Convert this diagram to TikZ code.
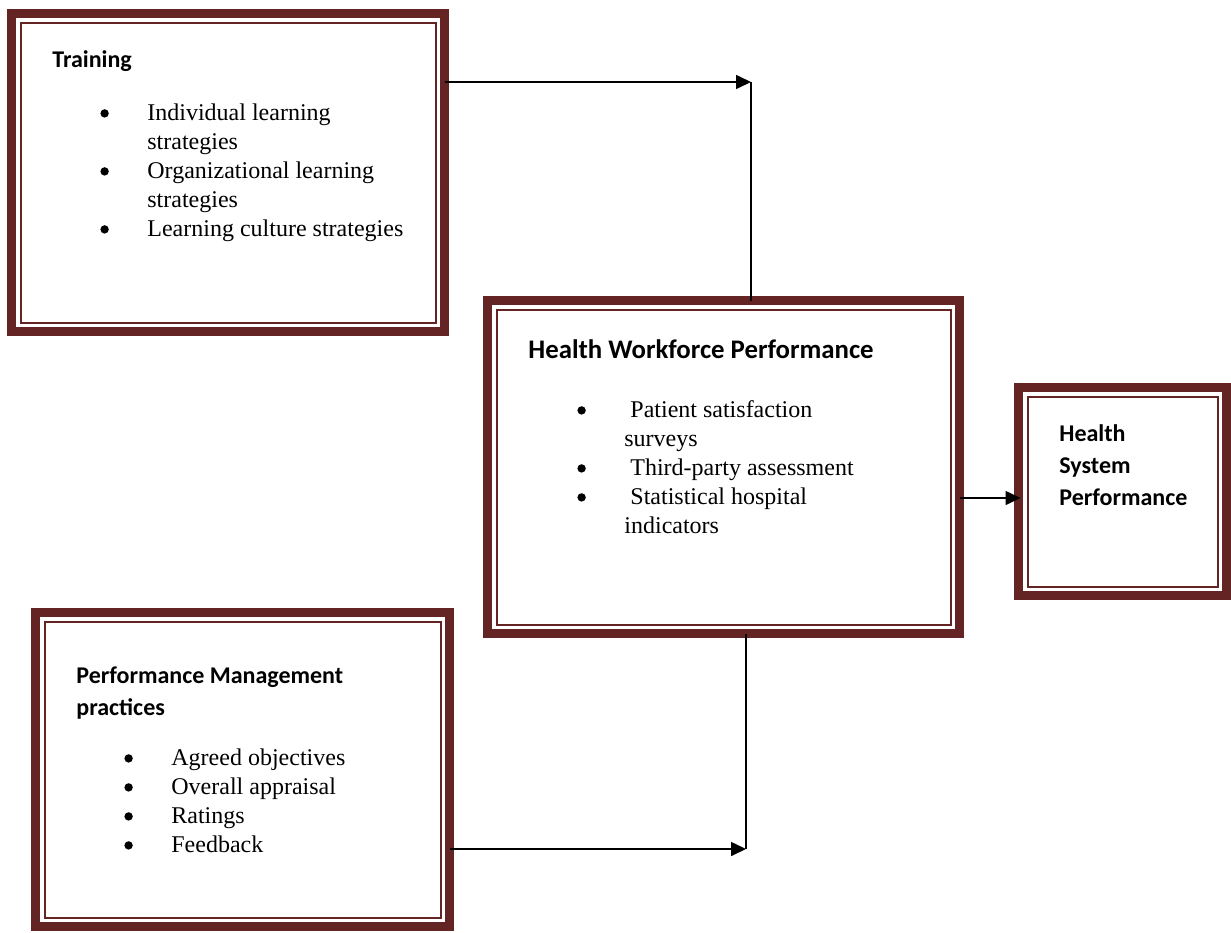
\documentclass[tikz,border=0pt]{standalone}
\usepackage{fontspec}
\setmainfont{Liberation Serif}
\newfontfamily\headfont{Carlito}
\usetikzlibrary{arrows.meta,positioning,calc}
\definecolor{boxmaroon}{RGB}{99,36,35}
\newcommand{\dotmark}{\tikz[baseline=-3.3pt]\fill (0,0) circle (2.1pt);}

\begin{document}
\begin{tikzpicture}[x=0.5pt, y=-0.5pt,
    framebox/.style={draw=boxmaroon, line width=4.5pt, rectangle, inner sep=0pt, outer sep=0pt},
    innerrule/.style={draw=boxmaroon, line width=1pt},
    heading/.style={font=\headfont\bfseries\fontsize{12}{16}\selectfont, inner sep=0pt, anchor=base west},
    itemlist/.style={font=\fontsize{12}{14.5}\selectfont, inner sep=0pt, anchor=base west},
    link/.style={line width=0.8pt},
    arrowlink/.style={link, -{Triangle[length=7.5pt, width=7pt]}}]

    \useasboundingbox (0,0) rectangle (1231,932);

    % Boxes
    \node[framebox, minimum width=216.5pt, minimum height=159pt] (train) at (228,172.5) {};
    \node[framebox, minimum width=236pt, minimum height=166.5pt] (hwp) at (723.5,467) {};
    \node[framebox, minimum width=104pt, minimum height=104pt] (hsp) at (1122.5,491.5) {};
    \node[framebox, minimum width=207pt, minimum height=157pt] (pmp) at (242.5,769.5) {};

    % Thin inner rules
    \foreach \n in {train,hwp,hsp,pmp} {
        \draw[innerrule] ([shift={(4.5pt,-4.5pt)}]\n.north west) rectangle ([shift={(-4.5pt,4.5pt)}]\n.south east);
    }

    % Training
    \node[heading] (trainhead) at (52,67) {Training};
    \node[itemlist] (trainlist) at (100,120) {\begin{tabular}[t]{@{}p{23.5pt}@{}l@{}}
        \dotmark & Individual learning\\
                 & strategies\\
        \dotmark & Organizational learning\\
                 & strategies\\
        \dotmark & Learning culture strategies
    \end{tabular}};

    % Health workforce performance
    \node[heading, font=\headfont\bfseries\fontsize{13.4}{16}\selectfont] (hwphead) at (528,358) {Health Workforce Performance};
    \node[itemlist] (hwplist) at (577,417) {\begin{tabular}[t]{@{}p{23.5pt}@{}l@{}}
        \dotmark & \ Patient satisfaction\\
                 & surveys\\
        \dotmark & \ Third-party assessment\\
        \dotmark & \ Statistical hospital\\
                 & indicators
    \end{tabular}};

    % Health system performance
    \node[heading] (hsphead) at (1059,441) {\begin{tabular}[t]{@{}l@{}}Health\\ System\\ Performance\end{tabular}};

    % Performance management practices
    \node[heading] (pmphead) at (76,683) {\begin{tabular}[t]{@{}l@{}}Performance Management\\ practices\end{tabular}};
    \node[itemlist] (pmplist) at (124,765) {\begin{tabular}[t]{@{}p{23.5pt}@{}l@{}}
        \dotmark & Agreed objectives\\
        \dotmark & Overall appraisal\\
        \dotmark & Ratings\\
        \dotmark & Feedback
    \end{tabular}};

    % Connectors
    \coordinate (j1) at (751,82);
    \coordinate (j2) at (746,849);
    \draw[arrowlink] (train.east |- j1) -- (j1);
    \draw[link] (j1) -- (j1 |- hwp.north);
    \draw[arrowlink] ([yshift=-3.25pt]hsp.west -| hwp.east) -- ([shift={(1pt,-3.25pt)}]hsp.west);
    \draw[link] (j2 |- hwp.south) -- (j2);
    \draw[arrowlink] (pmp.east |- j2) -- (j2);
\end{tikzpicture}
\end{document}
